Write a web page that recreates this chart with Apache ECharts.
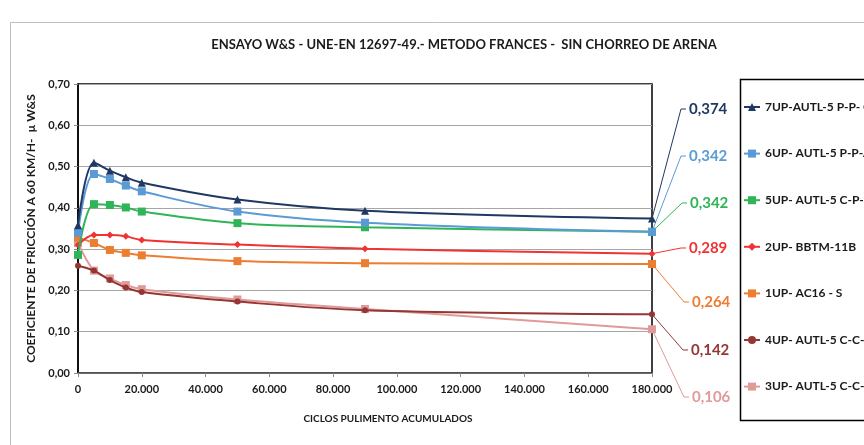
<!DOCTYPE html>
<html><head><meta charset="utf-8">
<script src="https://cdn.jsdelivr.net/npm/echarts@6/dist/echarts.min.js"></script>
<style>html,body{margin:0;padding:0;background:#fff}#c{width:864px;height:445px}</style>
</head><body><div id="c"></div>
<script>
var titleText = 'ENSAYO W&S - UNE-EN 12697-49.- METODO FRANCES -  SIN CHORREO DE ARENA';
var xAxisTitle = 'CICLOS PULIMENTO ACUMULADOS';
var yAxisTitle = 'COEFICIENTE DE FRICCIÓN A 60 KM/H-  µ W&S';
var cycles = [0, 5000, 10000, 15000, 20000, 50000, 90000, 180000];
var seriesNames = ['7UP-AUTL-5 P-P- C-A', '6UP- AUTL-5 P-P-A', '5UP- AUTL-5 C-P- A', '2UP- BBTM-11B', '1UP- AC16 - S', '4UP- AUTL-5 C-C-A', '3UP- AUTL-5 C-C-C'];
var s7 = [0.358, 0.509, 0.490, 0.474, 0.461, 0.420, 0.393, 0.374];
var s6 = [0.340, 0.482, 0.470, 0.454, 0.440, 0.391, 0.364, 0.342];
var s5 = [0.286, 0.409, 0.407, 0.401, 0.391, 0.363, 0.353, 0.342];
var s2 = [0.310, 0.334, 0.334, 0.331, 0.322, 0.311, 0.301, 0.289];
var s1 = [0.328, 0.315, 0.298, 0.291, 0.285, 0.271, 0.266, 0.264];
var s4 = [0.260, 0.248, 0.225, 0.207, 0.196, 0.173, 0.152, 0.142];
var s3 = [0.315, 0.248, 0.229, 0.213, 0.203, 0.178, 0.155, 0.106];
var seriesValues = [s7, s6, s5, s2, s1, s4, s3];

// styles
var colors = ['#1f3864', '#5b9bd5', '#2fb457', '#f03232', '#ed7d31', '#963634', '#e09a9a'];
var symbols = ['triangle', 'rect', 'rect', 'diamond', 'rect', 'circle', 'rect'];
var symbolSizes = [8, 8, 8, 7, 8, 6, 8];
var labelY = [109, 156, 203, 248, 302, 350, 397];
var labelX = [689, 689, 690, 689, 692, 691, 692];

var FONT = 'Lato, "Open Sans", sans-serif';
var chart = echarts.init(document.getElementById('c'));

var series = seriesNames.map(function (name, i) {
  var vals = seriesValues[i];
  var last = vals.length - 1;
  return {
    name: name,
    type: 'line',
    smooth: 0.35,
    symbol: symbols[i],
    symbolSize: symbolSizes[i],
    color: colors[i],
    lineStyle: { width: 2, color: colors[i] },
    itemStyle: { color: colors[i] },
    z: 10 - i,
    data: vals.map(function (v, k) {
      var item = { value: [cycles[k], v] };
      if (k === last) {
        item.label = {
          show: true,
          formatter: function (p) { return p.value[1].toFixed(3).replace('.', ','); },
          color: colors[i],
          fontFamily: FONT,
          fontWeight: 'bold',
          fontSize: 15
        };
      }
      return item;
    }),
    labelLayout: function () {
      return { x: labelX[i], y: labelY[i], align: 'left', verticalAlign: 'middle' };
    }
  };
});

var option = {
  animation: false,
  title: {
    text: titleText, left: 459, top: 33, textAlign: 'center',
    textStyle: { fontFamily: FONT, fontWeight: 'bold', fontSize: 13, color: '#1a1a1a' }
  },
  legend: {
    orient: 'vertical', left: 738, top: 96, itemGap: 34.6, itemWidth: 16, itemHeight: 10,
    textStyle: { fontFamily: FONT, fontWeight: 'bold', fontSize: 12, color: '#1a1a1a' },
    data: seriesNames
  },
  grid: { left: 78, right: 212, top: 84, bottom: 72, show: true, borderColor: '#000', borderWidth: 1.5, backgroundColor: 'transparent' },
  xAxis: {
    type: 'value', min: 0, max: 180000, interval: 20000,
    name: xAxisTitle, nameLocation: 'middle', nameGap: 41,
    nameTextStyle: { fontFamily: FONT, fontWeight: 'bold', fontSize: 10, color: '#1a1a1a', padding: [0, 0, 0, 46] },
    axisLine: { show: true, lineStyle: { color: '#595959', width: 1.5 } },
    axisTick: { show: true, length: 4, lineStyle: { color: '#8c8c8c' } },
    splitLine: { show: false },
    axisLabel: {
      fontFamily: FONT, fontWeight: 'bold', fontSize: 11, color: '#1a1a1a', margin: 11,
      formatter: function (v) { return v === 0 ? '0' : String(v).replace(/\B(?=(\d{3})+(?!\d))/g, '.'); }
    }
  },
  yAxis: {
    type: 'value', min: 0, max: 0.7, interval: 0.1,
    name: yAxisTitle, nameLocation: 'middle', nameGap: 40, nameRotate: 90,
    nameTextStyle: { fontFamily: FONT, fontWeight: 'bold', fontSize: 12, color: '#1a1a1a' },
    axisLine: { show: true, lineStyle: { color: '#000', width: 1.5 } },
    axisTick: { show: true, length: 4, lineStyle: { color: '#8c8c8c' } },
    splitLine: { show: true, lineStyle: { color: '#a6a6a6', width: 1 } },
    axisLabel: {
      fontFamily: FONT, fontWeight: 'bold', fontSize: 11, color: '#1a1a1a', margin: 8,
      formatter: function (v) { return v.toFixed(2).replace('.', ','); }
    }
  },
  series: series
};
chart.setOption(option);

// frame, legend box and leader lines (leader start points come from the data via the chart's scales)
var graphics = [
  { type: 'rect', shape: { x: 10.5, y: 22.5, width: 900, height: 500 }, style: { fill: 'none', stroke: '#bfbfbf', lineWidth: 1 }, z: -10 },
  { type: 'rect', shape: { x: 740.5, y: 79.5, width: 200, height: 341 }, style: { fill: '#fff', stroke: '#000', lineWidth: 1.5 }, z: -5 }
];
seriesValues.forEach(function (vals, i) {
  var last = vals.length - 1;
  var p = chart.convertToPixel({ gridIndex: 0 }, [cycles[last], vals[last]]);
  graphics.push({
    type: 'polyline', z: 5,
    shape: { points: [p, [labelX[i] - 8, labelY[i]], [labelX[i] - 3, labelY[i]]] },
    style: { stroke: colors[i], lineWidth: 1, fill: 'none' }
  });
});
chart.setOption({ graphic: graphics });
</script></body></html>
